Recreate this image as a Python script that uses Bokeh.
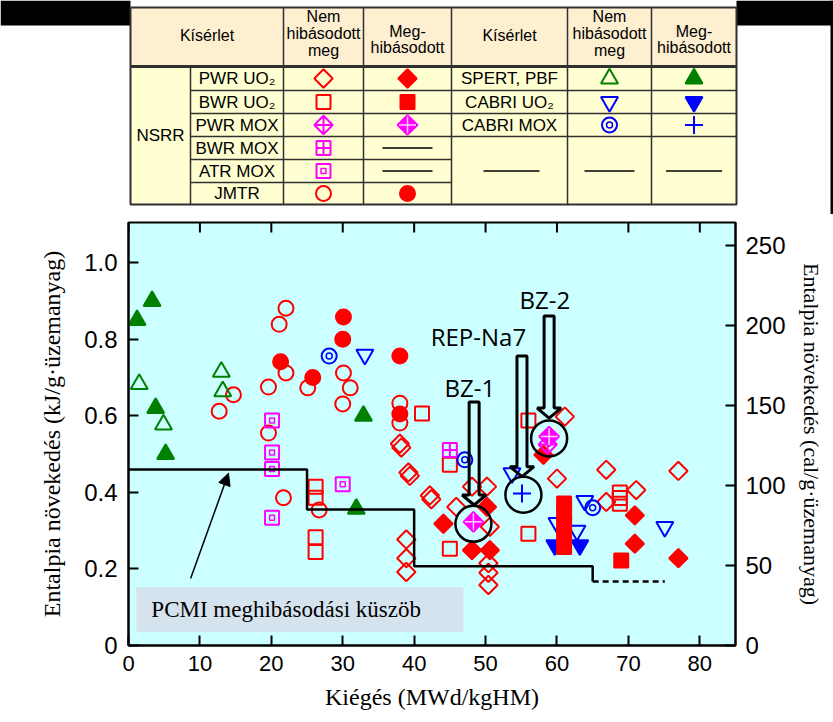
import numpy as np
from bokeh.plotting import figure
from bokeh.models import Range1d, LinearAxis, FixedTicker, Arrow, NormalHead
from bokeh.core.properties import value
from bokeh.embed import file_html
from bokeh.resources import INLINE

RED = "#FF0000"
GREEN = "#008000"
BLUE = "#0000FF"
MAG = "#FF00FF"

# ---------------- data ----------------
pwr_uo2_ok_x = [38.0, 38.2, 39.2, 39.4, 42.2, 42.4, 38.9, 38.9, 38.9, 45.9, 48.1, 50.2, 50.6, 50.4, 50.4, 50.4, 60.0, 61.1, 66.9, 66.9, 71.1, 77.0]
pwr_uo2_ok_y = [0.527, 0.517, 0.452, 0.443, 0.392, 0.382, 0.277, 0.228, 0.192, 0.362, 0.415, 0.415, 0.31, 0.215, 0.19, 0.158, 0.436, 0.598, 0.459, 0.375, 0.406, 0.456]
pwr_uo2_fail_x = [44.1, 50.2, 48.1, 50.6, 58.1, 70.9, 70.9, 77.0]
pwr_uo2_fail_y = [0.318, 0.362, 0.249, 0.249, 0.498, 0.34, 0.266, 0.228]
bwr_uo2_ok_x = [26.2, 26.2, 26.2, 26.2, 41.1, 45.0, 45.0, 56.0, 56.0, 68.8, 68.8, 68.8]
bwr_uo2_ok_y = [0.415, 0.386, 0.283, 0.244, 0.606, 0.472, 0.253, 0.588, 0.292, 0.40, 0.385, 0.37]
bwr_uo2_fail_x = [61.0, 61.0, 61.0, 61.0, 61.0, 69.0]
bwr_uo2_fail_y = [0.371, 0.345, 0.318, 0.288, 0.257, 0.222]
pwr_mox_ok_x = [58.7]
pwr_mox_ok_y = [0.525]
pwr_mox_fail_x = [48.3, 58.9]
pwr_mox_fail_y = [0.323, 0.546]
bwr_mox_ok_x = [45.0]
bwr_mox_ok_y = [0.511]
atr_mox_ok_x = [20.1, 20.1, 20.1, 20.1, 30.0]
atr_mox_ok_y = [0.588, 0.504, 0.461, 0.334, 0.421]
jmtr_ok_x = [22.05, 21.1, 22.05, 19.6, 25.1, 14.7, 12.7, 30.1, 31.05, 30.0, 19.6, 21.7, 26.7, 38.0, 38.0]
jmtr_ok_y = [0.881, 0.839, 0.712, 0.675, 0.673, 0.655, 0.612, 0.712, 0.673, 0.631, 0.555, 0.386, 0.354, 0.633, 0.581]
jmtr_fail_x = [30.1, 30.0, 21.3, 25.8, 38.0, 38.0]
jmtr_fail_y = [0.858, 0.80, 0.741, 0.70, 0.756, 0.605]
spert_ok_x = [1.5, 4.9, 13.0, 13.2]
spert_ok_y = [0.683, 0.577, 0.715, 0.664]
spert_fail_x = [1.2, 3.3, 3.8, 5.2, 32.9, 31.9]
spert_fail_y = [0.85, 0.90, 0.62, 0.50, 0.60, 0.357]
cabri_uo2_ok_x = [33.1, 53.7, 63.9, 75.1, 60.0, 62.8]
cabri_uo2_ok_y = [0.76, 0.45, 0.378, 0.31, 0.32, 0.30]
cabri_uo2_fail_x = [59.7, 63.2]
cabri_uo2_fail_y = [0.262, 0.262]
cabri_mox_ok_x = [28.1, 47.1, 65.0]
cabri_mox_ok_y = [0.756, 0.485, 0.36]
cabri_mox_fail_x = [55.1]
cabri_mox_fail_y = [0.397]

# PCMI threshold
thr_x = [0, 25, 25, 40, 40, 65, 65]
thr_y = [0.46, 0.46, 0.355, 0.355, 0.207, 0.207, 0.167]
thr_dash_x = [65, 75.1]
thr_dash_y = [0.167, 0.167]

# annotations
ann_labels = ["BZ-1", "REP-Na7", "BZ-2"]
ann_label_x = [47.8, 49.0, 58.3]
ann_label_y = [0.675, 0.808, 0.905]
ann_target_x = [48.3, 55.3, 58.9]
ann_target_y = [0.318, 0.394, 0.541]
ann_arrow_x = [48.4, 55.1, 58.9]
ann_arrow_top = [0.636, 0.756, 0.861]
ann_arrow_tip = [0.367, 0.441, 0.594]

pcmi_label = "PCMI meghibásodási küszöb"

x_ticks = [0, 10, 20, 30, 40, 50, 60, 70, 80]
y_ticks = [0, 0.2, 0.4, 0.6, 0.8, 1.0]
cal_ticks = [0, 50, 100, 150, 200, 250]
J_PER_CAL = 4.184

X_MAX = 85
Y_MAX = 1.105

PAGE_W = 833
TABLE_H = 214
MAIN_H = 508


def draw(fig, kind, xs, ys):
    lw = 2
    if kind == "diamond_open":
        fig.scatter(x=xs, y=ys, marker="square", angle=np.pi / 4, size=13, fill_color=None, line_color=RED, line_width=lw)
    elif kind == "diamond_fill":
        fig.scatter(x=xs, y=ys, marker="square", angle=np.pi / 4, size=13, fill_color=RED, line_color=RED, line_width=lw)
    elif kind == "square_open":
        fig.scatter(x=xs, y=ys, marker="square", size=14, fill_color=None, line_color=RED, line_width=lw)
    elif kind == "square_fill":
        fig.scatter(x=xs, y=ys, marker="square", size=14, fill_color=RED, line_color=RED, line_width=lw)
    elif kind == "pmox_open":
        fig.scatter(x=xs, y=ys, marker="square_x", angle=np.pi / 4, size=13, fill_color=None, line_color=MAG, line_width=lw)
    elif kind == "pmox_fill":
        fig.scatter(x=xs, y=ys, marker="square", angle=np.pi / 4, size=14, fill_color=MAG, line_color=MAG, line_width=lw)
        fig.scatter(x=xs, y=ys, marker="cross", size=17, line_color="#FFD0FF", line_width=1.5)
    elif kind == "bmox":
        fig.scatter(x=xs, y=ys, marker="square_cross", size=14, fill_color=None, line_color=MAG, line_width=lw)
    elif kind == "amox":
        fig.scatter(x=xs, y=ys, marker="square", size=14, fill_color=None, line_color=MAG, line_width=lw)
        fig.scatter(x=xs, y=ys, marker="square", size=5, fill_color=None, line_color=MAG, line_width=1.5)
    elif kind == "circle_open":
        fig.scatter(x=xs, y=ys, marker="circle", size=15, fill_color=None, line_color=RED, line_width=lw)
    elif kind == "circle_fill":
        fig.scatter(x=xs, y=ys, marker="circle", size=15, fill_color=RED, line_color=RED, line_width=lw)
    elif kind == "tri_open":
        fig.scatter(x=xs, y=ys, marker="triangle", size=17, fill_color=None, line_color=GREEN, line_width=lw)
    elif kind == "tri_fill":
        fig.scatter(x=xs, y=ys, marker="triangle", size=17, fill_color=GREEN, line_color=GREEN, line_width=lw)
    elif kind == "itri_open":
        fig.scatter(x=xs, y=ys, marker="inverted_triangle", size=17, fill_color=None, line_color=BLUE, line_width=lw)
    elif kind == "itri_fill":
        fig.scatter(x=xs, y=ys, marker="inverted_triangle", size=17, fill_color=BLUE, line_color=BLUE, line_width=lw)
    elif kind == "dcircle":
        fig.scatter(x=xs, y=ys, marker="circle", size=15, fill_color=None, line_color=BLUE, line_width=lw)
        fig.scatter(x=xs, y=ys, marker="circle", size=6, fill_color=None, line_color=BLUE, line_width=1.5)
    elif kind == "plus":
        fig.scatter(x=xs, y=ys, marker="cross", size=18, line_color=BLUE, line_width=lw)


# ---------------- table (legend) figure, page-pixel coordinates ----------------
t = figure(width=PAGE_W, height=TABLE_H, x_range=Range1d(0, PAGE_W), y_range=Range1d(TABLE_H, 0),
           min_border=0, min_border_left=0, min_border_right=0, min_border_top=0, min_border_bottom=0,
           toolbar_location=None, output_backend="svg",
           x_axis_location=None, y_axis_location=None, outline_line_color=None)
t.grid.visible = False

col_x = [130, 190, 283, 363, 451, 567, 651, 736]
row_y = [66, 90, 113, 136, 159, 182, 204]
TABLE_TOP = 7
row_c = [(row_y[i] + row_y[i + 1]) / 2 for i in range(6)]
HEADER_BG = "#FDEFD0"
BODY_BG = "#FFFFD2"
LINE = "#303030"

t.quad(left=[0, col_x[-1]], right=[col_x[0], PAGE_W], top=[0, 0], bottom=[25, 25], fill_color="black", line_color=None)
t.quad(left=[PAGE_W - 3], right=[PAGE_W], top=[0], bottom=[TABLE_H], fill_color="black", line_color=None)
t.quad(left=[col_x[0]], right=[col_x[-1]], top=[TABLE_TOP], bottom=[row_y[0]], fill_color=HEADER_BG, line_color=None)
t.quad(left=[col_x[0]], right=[col_x[-1]], top=[row_y[0]], bottom=[row_y[-1]], fill_color=BODY_BG, line_color=None)

for cx in [col_x[2], col_x[3], col_x[4], col_x[5], col_x[6]]:
    t.line([cx, cx], [TABLE_TOP, row_y[-1]], line_color=LINE, line_width=1.5)
t.line([col_x[1], col_x[1]], [row_y[0], row_y[-1]], line_color=LINE, line_width=1.5)
for ry in row_y[1:6]:
    t.line([col_x[1], col_x[4]], [ry, ry], line_color=LINE, line_width=1.5)
for ry in row_y[1:4]:
    t.line([col_x[4], col_x[7]], [ry, ry], line_color=LINE, line_width=1.5)
t.line([col_x[0], col_x[7]], [row_y[0], row_y[0]], line_color=LINE, line_width=3)
t.line([col_x[0], col_x[7], col_x[7], col_x[0], col_x[0]],
       [TABLE_TOP, TABLE_TOP, row_y[-1], row_y[-1], TABLE_TOP], line_color=LINE, line_width=2)

TFONT = value("Liberation Sans")
m12 = (col_x[0] + col_x[2]) / 2
m3 = (col_x[2] + col_x[3]) / 2
m4 = (col_x[3] + col_x[4]) / 2
m5 = (col_x[4] + col_x[5]) / 2
m6 = (col_x[5] + col_x[6]) / 2
m7 = (col_x[6] + col_x[7]) / 2
hdr_x = [m12, m3, m3, m3, m4, m4, m5, m6, m6, m6, m7, m7]
hdr_y = [35, 16, 33, 50, 31, 47, 35, 16, 33, 50, 31, 47]
hdr_t = ["Kísérlet", "Nem", "hibásodott", "meg", "Meg-", "hibásodott",
         "Kísérlet", "Nem", "hibásodott", "meg", "Meg-", "hibásodott"]
t.text(x=hdr_x, y=hdr_y, text=hdr_t, text_font=TFONT, text_font_size="16px",
       text_align="center", text_baseline="middle", text_color="black")

left_labels = ["PWR UO₂", "BWR UO₂", "PWR MOX", "BWR MOX", "ATR MOX", "JMTR"]
t.text(x=[(col_x[1] + col_x[2]) / 2] * 6, y=row_c, text=left_labels, text_font=TFONT, text_font_size="17px",
       text_align="center", text_baseline="middle", text_color="black")
t.text(x=[(col_x[0] + col_x[1]) / 2], y=[(row_y[0] + row_y[-1]) / 2], text=["NSRR"], text_font=TFONT,
       text_font_size="17px", text_align="center", text_baseline="middle", text_color="black")
right_labels = ["SPERT, PBF", "CABRI UO₂", "CABRI MOX"]
t.text(x=[m5] * 3, y=row_c[:3], text=right_labels, text_font=TFONT, text_font_size="17px",
       text_align="center", text_baseline="middle", text_color="black")

legend_left = [("diamond_open", "diamond_fill"), ("square_open", "square_fill"), ("pmox_open", "pmox_fill"),
               ("bmox", None), ("amox", None), ("circle_open", "circle_fill")]
for i, (k_ok, k_fail) in enumerate(legend_left):
    draw(t, k_ok, [m3], [row_c[i]])
    if k_fail:
        draw(t, k_fail, [m4], [row_c[i]])
    else:
        t.line([m4 - 25, m4 + 25], [row_c[i], row_c[i]], line_color="black", line_width=1.5)
legend_right = [("tri_open", "tri_fill"), ("itri_open", "itri_fill"), ("dcircle", "plus")]
for i, (k_ok, k_fail) in enumerate(legend_right):
    draw(t, k_ok, [m6], [row_c[i]])
    draw(t, k_fail, [m7], [row_c[i]])
dash_y = row_c[4]
for cx, hw in [(m5 + 2, 28), (m6, 25), (m7, 28)]:
    t.line([cx - hw, cx + hw], [dash_y, dash_y], line_color="black", line_width=1.5)

# ---------------- main chart ----------------
p = figure(width=PAGE_W, height=MAIN_H, x_range=Range1d(0, X_MAX), y_range=Range1d(0, Y_MAX),
           output_backend="svg", toolbar_location=None,
           min_border_left=128, min_border_right=98, min_border_top=8, min_border_bottom=77,
           background_fill_color="#CCFFFF", outline_line_color="black", outline_line_width=2,
           border_fill_color="white")
p.grid.visible = False
p.extra_y_ranges = {"cal": Range1d(0, Y_MAX * 1000 / J_PER_CAL)}

SERIF = value("Liberation Serif")


def style_axis(ax, label_size):
    ax.major_tick_in = 10
    ax.major_tick_out = 0
    ax.minor_tick_line_color = None
    ax.major_tick_line_color = "black"
    ax.major_tick_line_width = 2
    ax.axis_line_color = "black"
    ax.axis_line_width = 2
    ax.major_label_text_font = "Liberation Sans"
    ax.major_label_text_font_size = label_size
    ax.major_label_text_color = "black"
    ax.axis_label_text_font = "Liberation Serif"
    ax.axis_label_text_font_style = "normal"
    ax.axis_label_text_color = "black"


xa = p.xaxis[0]
xa.ticker = FixedTicker(ticks=x_ticks)
style_axis(xa, "22px")
xa.axis_label = "Kiégés (MWd/kgHM)"
xa.axis_label_text_font_size = "24px"
xa.major_label_standoff = 10
xa.axis_label_standoff = 10

ya = p.yaxis[0]
ya.ticker = FixedTicker(ticks=y_ticks)
ya.major_label_overrides = {0: "0", 1: "1.0"}
style_axis(ya, "24px")
ya.axis_label = "Entalpia növekedés (kJ/g·üzemanyag)"
ya.axis_label_text_font_size = "24px"
ya.major_label_standoff = 11
ya.axis_label_standoff = 16

ra = LinearAxis(y_range_name="cal", ticker=FixedTicker(ticks=cal_ticks))
style_axis(ra, "24px")
ra.axis_label = "Entalpia növekedés (cal/g·üzemanyag)"
ra.axis_label_text_font_size = "22px"
ra.major_label_standoff = 10
ra.axis_label_standoff = 10
p.add_layout(ra, "right")

PX_X = X_MAX / 607.0
PX_Y = Y_MAX / 423.0

# top-edge inward ticks
p.segment(x0=x_ticks, y0=[Y_MAX] * len(x_ticks), x1=x_ticks, y1=[Y_MAX - 10 * PX_Y] * len(x_ticks),
          line_color="black", line_width=2)

# PCMI label box
p.quad(left=[1.1], right=[46.9], bottom=[0.036], top=[0.152], fill_color="#D5E3EE", line_color=None)
p.text(x=[3.2], y=[0.094], text=[pcmi_label], text_font=SERIF, text_font_size="23px",
       text_align="left", text_baseline="middle", text_color="black")

# markers: open first, filled later
draw(p, "circle_open", jmtr_ok_x, jmtr_ok_y)
draw(p, "tri_open", spert_ok_x, spert_ok_y)
draw(p, "amox", atr_mox_ok_x, atr_mox_ok_y)
draw(p, "square_open", bwr_uo2_ok_x, bwr_uo2_ok_y)
draw(p, "diamond_open", pwr_uo2_ok_x, pwr_uo2_ok_y)
draw(p, "bmox", bwr_mox_ok_x, bwr_mox_ok_y)
draw(p, "itri_open", cabri_uo2_ok_x, cabri_uo2_ok_y)
draw(p, "dcircle", cabri_mox_ok_x, cabri_mox_ok_y)
draw(p, "circle_fill", jmtr_fail_x, jmtr_fail_y)
draw(p, "tri_fill", spert_fail_x, spert_fail_y)
draw(p, "diamond_fill", pwr_uo2_fail_x, pwr_uo2_fail_y)
draw(p, "itri_fill", cabri_uo2_fail_x, cabri_uo2_fail_y)
draw(p, "square_fill", bwr_uo2_fail_x, bwr_uo2_fail_y)
draw(p, "pmox_open", pwr_mox_ok_x, pwr_mox_ok_y)
draw(p, "pmox_fill", pwr_mox_fail_x, pwr_mox_fail_y)
draw(p, "plus", cabri_mox_fail_x, cabri_mox_fail_y)

# threshold
p.line(thr_x, thr_y, line_color="black", line_width=2.5)
p.line(thr_dash_x, thr_dash_y, line_color="black", line_width=2.5, line_dash="6 4")

p.add_layout(Arrow(end=NormalHead(size=12, fill_color="black", line_color="black"),
                   x_start=8.7, y_start=0.175, x_end=14.0, y_end=0.45,
                   line_color="black", line_width=1.5))

# block arrows
SHAFT_HW = 5 * PX_X
HEAD_HW = 12 * PX_X
HEAD_LEN = 10 * PX_Y
arr_xs, arr_ys = [], []
for ax_, top, tip in zip(ann_arrow_x, ann_arrow_top, ann_arrow_tip):
    base = tip + HEAD_LEN
    arr_xs.append([ax_ - SHAFT_HW, ax_ + SHAFT_HW, ax_ + SHAFT_HW, ax_ + HEAD_HW, ax_, ax_ - HEAD_HW, ax_ - SHAFT_HW])
    arr_ys.append([top, top, base, base, tip, base, base])
p.patches(arr_xs, arr_ys, fill_color=None, line_color="black", line_width=3)
p.scatter(x=ann_target_x, y=ann_target_y, marker="circle", size=36, fill_color=None,
          line_color="black", line_width=2.5)
p.text(x=ann_label_x, y=ann_label_y, text=ann_labels, text_font=value("Open Sans"), text_font_size="24px",
       text_align="center", text_baseline="middle", text_color="black")

open("out.html", "w").write(file_html([t, p], INLINE))
